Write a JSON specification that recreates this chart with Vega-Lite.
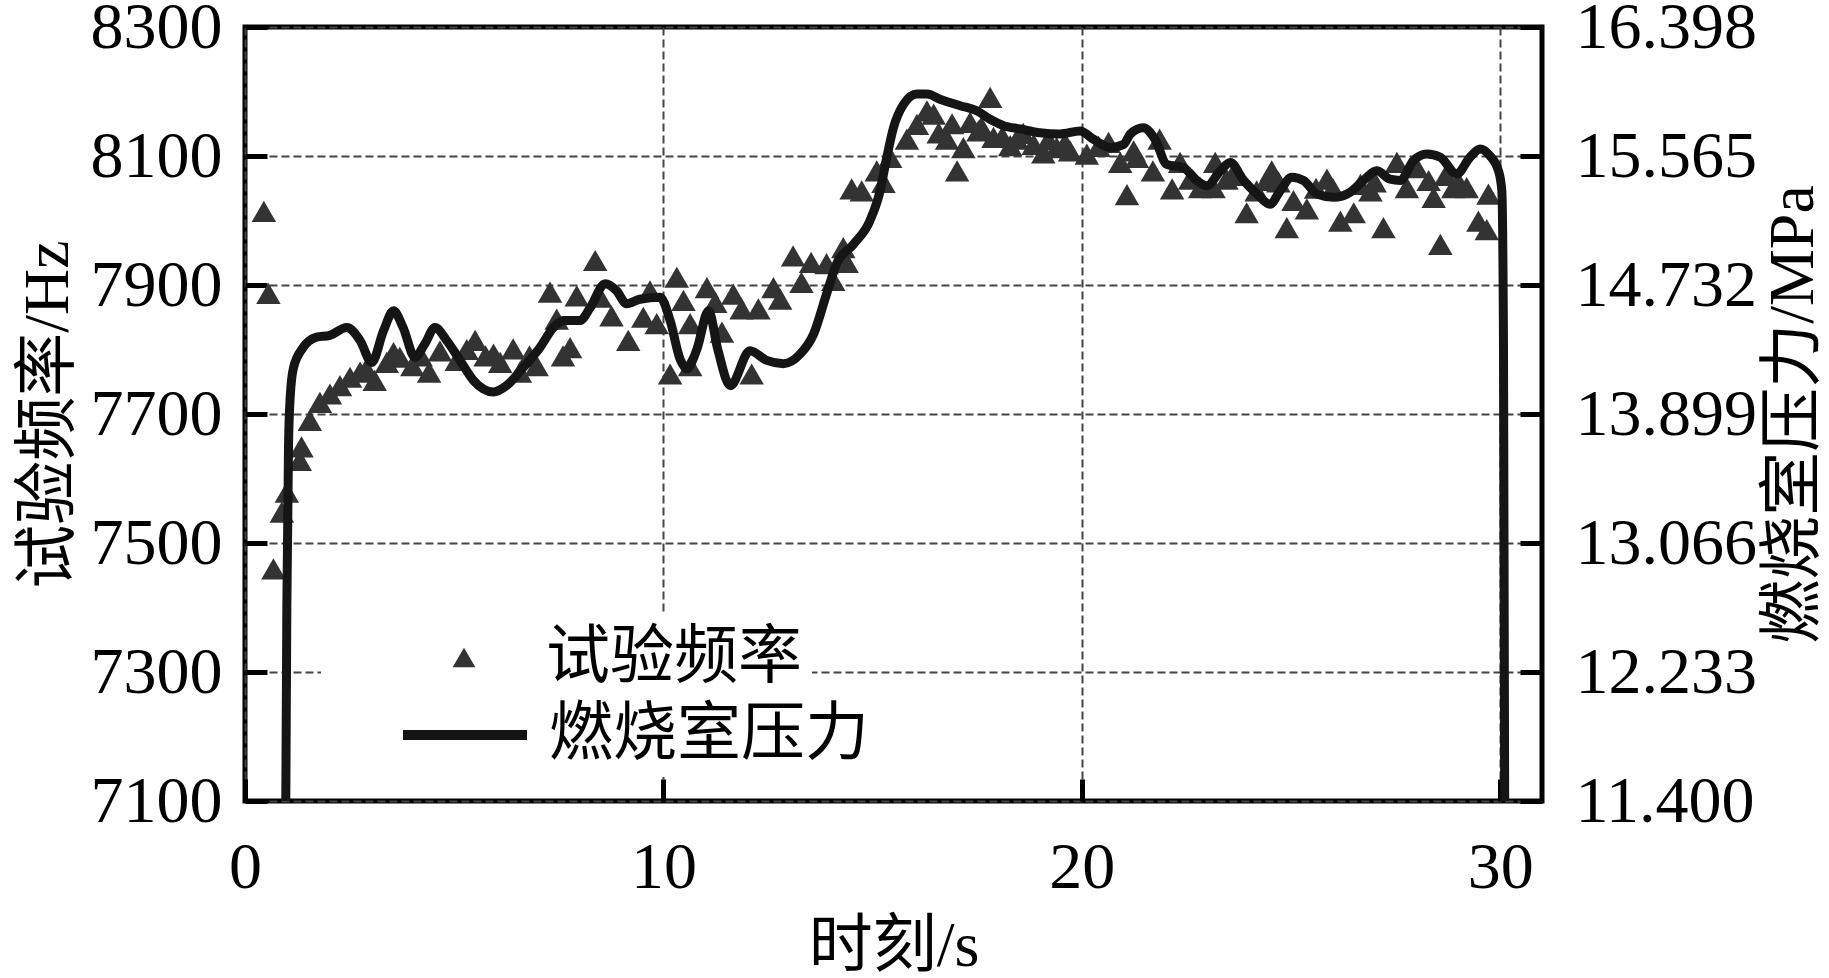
{
  "$schema": "https://vega.github.io/schema/vega-lite/v6.json",
  "width": 1297,
  "height": 774,
  "autosize": {"type": "none"},
  "padding": {"left": 245, "top": 27, "right": 287, "bottom": 177},
  "background": "white",
  "datasets": {
    "freq": [
      {"t": 0.45, "f": 8014}, {"t": 0.56, "f": 7887}, {"t": 0.68, "f": 7460}, {"t": 0.88, "f": 7548},
      {"t": 1.0, "f": 7579}, {"t": 1.31, "f": 7628}, {"t": 1.35, "f": 7649}, {"t": 1.55, "f": 7690},
      {"t": 1.79, "f": 7718}, {"t": 2.03, "f": 7731}, {"t": 2.27, "f": 7744}, {"t": 2.51, "f": 7757},
      {"t": 2.75, "f": 7765}, {"t": 2.9, "f": 7770}, {"t": 3.1, "f": 7752}, {"t": 3.39, "f": 7780},
      {"t": 3.55, "f": 7795}, {"t": 3.7, "f": 7788}, {"t": 4.0, "f": 7775}, {"t": 4.2, "f": 7790},
      {"t": 4.4, "f": 7765}, {"t": 4.66, "f": 7798}, {"t": 5.06, "f": 7783}, {"t": 5.3, "f": 7800},
      {"t": 5.5, "f": 7814}, {"t": 5.75, "f": 7790}, {"t": 5.94, "f": 7793}, {"t": 6.1, "f": 7780},
      {"t": 6.41, "f": 7801}, {"t": 6.57, "f": 7765}, {"t": 6.8, "f": 7790}, {"t": 6.97, "f": 7775},
      {"t": 7.29, "f": 7889}, {"t": 7.45, "f": 7847}, {"t": 7.6, "f": 7790}, {"t": 7.77, "f": 7803},
      {"t": 7.93, "f": 7883}, {"t": 8.37, "f": 7938}, {"t": 8.49, "f": 7881}, {"t": 8.76, "f": 7852},
      {"t": 9.16, "f": 7814}, {"t": 9.52, "f": 7850}, {"t": 9.68, "f": 7891}, {"t": 9.84, "f": 7840},
      {"t": 10.16, "f": 7762}, {"t": 10.32, "f": 7912}, {"t": 10.48, "f": 7876}, {"t": 10.64, "f": 7840},
      {"t": 10.64, "f": 7775}, {"t": 11.04, "f": 7896}, {"t": 11.24, "f": 7873}, {"t": 11.4, "f": 7827},
      {"t": 11.67, "f": 7886}, {"t": 11.87, "f": 7863}, {"t": 12.11, "f": 7762}, {"t": 12.27, "f": 7863},
      {"t": 12.63, "f": 7896}, {"t": 12.79, "f": 7878}, {"t": 13.1, "f": 7945}, {"t": 13.3, "f": 7904},
      {"t": 13.53, "f": 7935}, {"t": 13.9, "f": 7933}, {"t": 14.06, "f": 7907}, {"t": 14.3, "f": 7958},
      {"t": 14.38, "f": 7935}, {"t": 14.5, "f": 8049}, {"t": 14.74, "f": 8046}, {"t": 15.1, "f": 8077},
      {"t": 15.26, "f": 8059}, {"t": 15.42, "f": 8098}, {"t": 15.82, "f": 8126}, {"t": 16.06, "f": 8149},
      {"t": 16.3, "f": 8170}, {"t": 16.46, "f": 8165}, {"t": 16.58, "f": 8136}, {"t": 16.78, "f": 8126},
      {"t": 16.9, "f": 8150}, {"t": 17.02, "f": 8077}, {"t": 17.17, "f": 8113}, {"t": 17.33, "f": 8152},
      {"t": 17.53, "f": 8139}, {"t": 17.6, "f": 8145}, {"t": 17.81, "f": 8191}, {"t": 17.89, "f": 8129},
      {"t": 18.1, "f": 8130}, {"t": 18.29, "f": 8116}, {"t": 18.45, "f": 8126}, {"t": 18.6, "f": 8135},
      {"t": 18.85, "f": 8118}, {"t": 19.08, "f": 8105}, {"t": 19.2, "f": 8125}, {"t": 19.4, "f": 8113},
      {"t": 19.6, "f": 8120}, {"t": 19.72, "f": 8108}, {"t": 20.12, "f": 8103}, {"t": 20.4, "f": 8115},
      {"t": 20.64, "f": 8121}, {"t": 20.92, "f": 8090}, {"t": 21.08, "f": 8040}, {"t": 21.24, "f": 8108},
      {"t": 21.32, "f": 8098}, {"t": 21.7, "f": 8077}, {"t": 21.86, "f": 8126}, {"t": 22.16, "f": 8049},
      {"t": 22.35, "f": 8090}, {"t": 22.59, "f": 8064}, {"t": 22.83, "f": 8051}, {"t": 23.15, "f": 8051},
      {"t": 23.19, "f": 8090}, {"t": 23.46, "f": 8064}, {"t": 23.6, "f": 8070}, {"t": 23.94, "f": 8012},
      {"t": 24.18, "f": 8046}, {"t": 24.42, "f": 8062}, {"t": 24.54, "f": 8077}, {"t": 24.7, "f": 8060},
      {"t": 24.9, "f": 7989}, {"t": 25.06, "f": 8031}, {"t": 25.38, "f": 8018}, {"t": 25.6, "f": 8050},
      {"t": 25.86, "f": 8064}, {"t": 26.0, "f": 8050}, {"t": 26.18, "f": 7999}, {"t": 26.5, "f": 8012},
      {"t": 26.66, "f": 8056}, {"t": 26.9, "f": 8046}, {"t": 27.0, "f": 8060}, {"t": 27.21, "f": 7989},
      {"t": 27.53, "f": 8090}, {"t": 27.77, "f": 8051}, {"t": 28.01, "f": 8082}, {"t": 28.29, "f": 8062},
      {"t": 28.41, "f": 8036}, {"t": 28.57, "f": 7963}, {"t": 28.7, "f": 8070}, {"t": 28.88, "f": 8051},
      {"t": 29.0, "f": 8060}, {"t": 29.2, "f": 8051}, {"t": 29.48, "f": 7999}, {"t": 29.68, "f": 7986},
      {"t": 29.72, "f": 8041}
    ],
    "press": [
      {"t": 0.95, "p": 10.15}, {"t": 1.0, "p": 12.65}, {"t": 1.04, "p": 13.69}, {"t": 1.08, "p": 14.007},
      {"t": 1.16, "p": 14.199}, {"t": 1.39, "p": 14.328}, {"t": 1.71, "p": 14.395}, {"t": 2.03, "p": 14.407},
      {"t": 2.43, "p": 14.457}, {"t": 2.75, "p": 14.374}, {"t": 3.03, "p": 14.232}, {"t": 3.31, "p": 14.436},
      {"t": 3.55, "p": 14.565}, {"t": 3.78, "p": 14.457}, {"t": 4.06, "p": 14.266}, {"t": 4.3, "p": 14.353},
      {"t": 4.54, "p": 14.457}, {"t": 4.82, "p": 14.374}, {"t": 5.14, "p": 14.245}, {"t": 5.46, "p": 14.116},
      {"t": 5.94, "p": 14.041}, {"t": 6.25, "p": 14.082}, {"t": 6.65, "p": 14.199}, {"t": 7.05, "p": 14.328},
      {"t": 7.37, "p": 14.457}, {"t": 7.61, "p": 14.503}, {"t": 8.01, "p": 14.503}, {"t": 8.25, "p": 14.586},
      {"t": 8.61, "p": 14.74}, {"t": 8.88, "p": 14.695}, {"t": 9.12, "p": 14.611}, {"t": 9.44, "p": 14.64},
      {"t": 9.92, "p": 14.653}, {"t": 10.16, "p": 14.503}, {"t": 10.4, "p": 14.253}, {"t": 10.56, "p": 14.191},
      {"t": 10.8, "p": 14.316}, {"t": 11.08, "p": 14.565}, {"t": 11.3, "p": 14.316}, {"t": 11.6, "p": 14.082},
      {"t": 12.07, "p": 14.307}, {"t": 12.47, "p": 14.245}, {"t": 12.87, "p": 14.224}, {"t": 13.27, "p": 14.286},
      {"t": 13.59, "p": 14.415}, {"t": 13.9, "p": 14.674}, {"t": 14.14, "p": 14.869}, {"t": 14.54, "p": 14.994},
      {"t": 14.94, "p": 15.149}, {"t": 15.18, "p": 15.34}, {"t": 15.34, "p": 15.557}, {"t": 15.5, "p": 15.748},
      {"t": 15.74, "p": 15.898}, {"t": 16.06, "p": 15.965}, {"t": 16.3, "p": 15.965}, {"t": 16.61, "p": 15.932},
      {"t": 17.09, "p": 15.89}, {"t": 17.49, "p": 15.857}, {"t": 17.81, "p": 15.802}, {"t": 18.13, "p": 15.761},
      {"t": 18.53, "p": 15.74}, {"t": 19.0, "p": 15.715}, {"t": 19.48, "p": 15.707}, {"t": 19.96, "p": 15.727},
      {"t": 20.28, "p": 15.673}, {"t": 20.68, "p": 15.619}, {"t": 21.0, "p": 15.64}, {"t": 21.16, "p": 15.707},
      {"t": 21.47, "p": 15.748}, {"t": 21.75, "p": 15.673}, {"t": 22.03, "p": 15.511}, {"t": 22.43, "p": 15.49},
      {"t": 22.75, "p": 15.407}, {"t": 22.99, "p": 15.373}, {"t": 23.31, "p": 15.469}, {"t": 23.55, "p": 15.523},
      {"t": 23.87, "p": 15.407}, {"t": 24.19, "p": 15.319}, {"t": 24.5, "p": 15.253}, {"t": 24.74, "p": 15.34},
      {"t": 25.02, "p": 15.428}, {"t": 25.3, "p": 15.407}, {"t": 25.62, "p": 15.319}, {"t": 26.02, "p": 15.298},
      {"t": 26.42, "p": 15.332}, {"t": 26.73, "p": 15.407}, {"t": 27.05, "p": 15.469}, {"t": 27.37, "p": 15.415},
      {"t": 27.61, "p": 15.407}, {"t": 27.93, "p": 15.536}, {"t": 28.25, "p": 15.578}, {"t": 28.57, "p": 15.557},
      {"t": 28.96, "p": 15.449}, {"t": 29.28, "p": 15.557}, {"t": 29.52, "p": 15.611}, {"t": 29.76, "p": 15.565},
      {"t": 29.96, "p": 15.469}, {"t": 30.04, "p": 15.34}, {"t": 30.08, "p": 14.316}, {"t": 30.12, "p": 10.15}
    ]
  },
  "layer": [
    {
      "data": {"name": "freq"},
      "mark": {"type": "point", "shape": "triangle-up", "filled": true, "size": 600, "opacity": 1, "strokeWidth": 0},
      "encoding": {
        "x": {
          "field": "t", "type": "quantitative",
          "scale": {"domain": [0, 31], "nice": false},
          "axis": {"title": "时刻/s", "values": [0, 10, 20, 30], "format": "d", "grid": true, "labelPadding": 56, "titlePadding": 14}
        },
        "y": {
          "field": "f", "type": "quantitative",
          "scale": {"domain": [7100, 8300], "nice": false, "zero": false},
          "axis": {"title": "试验频率/Hz", "orient": "left", "values": [7100, 7300, 7500, 7700, 7900, 8100, 8300], "format": "d", "grid": true, "labelPadding": 45, "titlePadding": 10}
        },
        "color": {
          "datum": "试验频率",
          "scale": {"range": ["#333333"]},
          "legend": {
            "title": null, "orient": "none", "legendX": 76, "legendY": 588, "padding": 10,
            "fillColor": "white", "symbolType": "triangle-up", "symbolSize": 520, "symbolStrokeWidth": 0,
            "symbolOffset": 101, "labelOffset": 50, "clipHeight": 65,
            "labelFont": "Liberation Serif, Noto Sans CJK SC", "labelFontSize": 64, "labelColor": "#000", "labelLimit": 800,
            "labelExpr": "datum.label + '     '"
          }
        }
      }
    },
    {
      "data": {"name": "press"},
      "mark": {"type": "line", "interpolate": "monotone", "strokeWidth": 9, "clip": true, "strokeJoin": "round", "strokeCap": "round"},
      "encoding": {
        "x": {"field": "t", "type": "quantitative"},
        "y": {
          "field": "p", "type": "quantitative",
          "scale": {"domain": [11.4, 16.398], "nice": false, "zero": false},
          "axis": {"title": "燃烧室压力/MPa", "orient": "right", "values": [11.4, 12.233, 13.066, 13.899, 14.732, 15.565, 16.398], "format": ".3f", "grid": false, "labelPadding": 55, "titlePadding": 19, "titleAngle": 270, "titleBaseline": "top"}
        },
        "color": {
          "datum": "燃烧室压力",
          "scale": {"range": ["#151515"]},
          "legend": {
            "title": null, "orient": "none", "legendX": 76, "legendY": 673, "padding": 10,
            "fillColor": "white", "symbolType": "stroke", "symbolSize": 15376, "symbolStrokeWidth": 10,
            "symbolOffset": 67, "labelOffset": 17, "clipHeight": 50,
            "labelFont": "Liberation Serif, Noto Sans CJK SC", "labelFontSize": 64, "labelColor": "#000", "labelLimit": 800,
            "labelExpr": "datum.label + ' '"
          }
        }
      }
    }
  ],
  "resolve": {"scale": {"y": "independent", "color": "independent"}},
  "config": {
    "view": {"stroke": "#000", "strokeWidth": 5},
    "axis": {
      "labelFont": "Liberation Serif", "labelFontSize": 66, "labelColor": "#000", "labelLimit": 500,
      "titleFont": "Liberation Serif, Noto Sans CJK SC", "titleFontSize": 64, "titleFontWeight": "normal", "titleColor": "#000", "titleLimit": 1000,
      "tickColor": "#000", "tickWidth": 5, "tickSize": -22, "domain": false,
      "gridColor": "#444444", "gridDash": [8, 4], "gridWidth": 2, "labelOverlap": false, "labelFlush": false
    }
  }
}
